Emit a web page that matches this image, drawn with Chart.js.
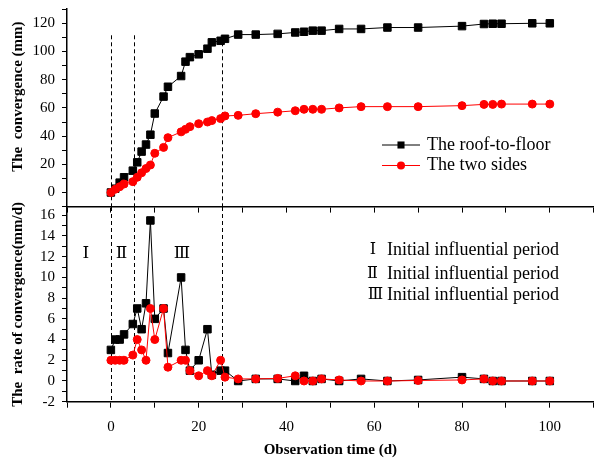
<!DOCTYPE html>
<html>
<head>
<meta charset="utf-8">
<script src="https://cdn.jsdelivr.net/npm/chart.js@4.4.1/dist/chart.umd.min.js"></script>
<style>
  html, body { margin: 0; padding: 0; background: #fff; overflow: hidden; }
  body { width: 597px; height: 459px; position: relative; }
  canvas { position: absolute; left: 0; }
  #convergenceChart { top: 0; }
  #rateChart { top: 200px; }
</style>
</head>
<body>
<canvas id="convergenceChart" width="600" height="214"></canvas>
<canvas id="rateChart" width="600" height="259"></canvas>
<script>
// Observation days (d)
const days = [0, 1, 2, 3, 5, 6, 7, 8, 9, 10, 12, 13, 16, 17, 18, 20, 22, 23, 25, 26,
  29, 33, 38, 42, 44, 46, 48, 52, 57, 63, 70, 80, 85, 87, 89, 96, 100]

// Convergence (mm)
const roofToFloor = [0, 2.7, 7, 10.8, 15.5, 21.4, 29, 34, 41, 56, 68, 75, 82.6, 92.8, 96, 98, 102, 106.5, 107.6, 109,
  112, 112, 112.5, 113.5, 114, 114.8, 114.8, 116, 116, 117, 117, 118, 119.5, 119.7, 119.7, 120, 120]
const twoSides = [0, 2.3, 4.1, 6, 7.7, 10.8, 14, 17, 19.5, 27.8, 32, 38.9, 43, 44.8, 46.7, 48.8, 50, 51, 52.4, 54.3,
  54.7, 55.9, 57, 58, 59, 59, 59, 60, 60.9, 60.9, 60.9, 61.6, 62.5, 62.5, 62.7, 62.7, 62.7]

// Rate of convergence (mm/d)
const roofToFloorRate = [3, 4, 4, 4.5, 5.5, 7, 5, 7.5, 15.5, 6, 7, 2.7, 10, 3, 1, 2, 5, 0.6, 1, 1,
  0, 0.2, 0.2, 0, 0.5, 0, 0.2, 0, 0.2, 0, 0.1, 0.37, 0.2, 0, 0, 0, 0]
const twoSidesRate = [2, 2, 2, 2, 2.5, 4, 3, 2, 7, 4, 7, 1.33, 2, 2, 1, 0.5, 1, 0.5, 2, 0.37,
  0.2, 0.2, 0.25, 0.5, 0, 0, 0.2, 0.1, 0, 0, 0.05, 0.1, 0.2, 0, 0, 0, 0]

// Stage boundaries (d) and stage names
const phaseBounds = [0, 5.2, 25.3]
const phaseNames = ['Ⅰ', 'Ⅱ', 'Ⅲ']
const phaseNotes = ['Ⅰ  Initial influential period', 'Ⅱ   Initial influential period', 'Ⅲ Initial influential period']

const serif = '"Liberation Serif", "Times New Roman", "DejaVu Serif", serif'
const numeralFont = '"DejaVu Serif", serif'
Chart.defaults.font.family = serif
Chart.defaults.color = '#000'

const toPoints = (xs, ys) => xs.map((x, i) => ({ x, y: ys[i] }))

function seriesSets(blackValues, redValues) {
  return [
    {
      label: 'The roof-to-floor',
      data: toPoints(days, blackValues),
      borderColor: '#000',
      backgroundColor: '#000',
      borderWidth: 1,
      pointStyle: 'rect',
      pointRadius: 5.3,
      pointBorderWidth: 1,
      order: 1
    },
    {
      label: 'The two sides',
      data: toPoints(days, redValues),
      borderColor: '#ff0000',
      backgroundColor: '#ff0000',
      borderWidth: 1,
      pointStyle: 'circle',
      pointRadius: 4,
      pointBorderWidth: 1,
      order: 0
    }
  ]
}

function xAxis(withLabels, height) {
  return {
    type: 'linear',
    min: -10,
    max: 110,
    ticks: {
      display: withLabels,
      stepSize: 10,
      autoSkip: false,
      maxRotation: 0,
      padding: 10,
      font: { size: 15 },
      callback: (v) => (Math.abs(v % 20) < 1e-6 && v >= 0 && v <= 100 ? v : '')
    },
    grid: { drawOnChartArea: false, tickLength: 6, tickColor: '#000', color: '#000' },
    border: { color: '#000', width: 1.5 },
    title: {
      display: withLabels,
      text: 'Observation time (d)',
      font: { size: 15, weight: 'bold' },
      padding: { top: 0, bottom: 0 }
    },
    afterFit(scale) {
      scale.height = height
      scale.paddingLeft = 0
      scale.paddingRight = 0
    }
  }
}

function yAxis(min, max, step, labelStep, title) {
  return {
    min,
    max,
    ticks: {
      stepSize: step,
      includeBounds: false,
      autoSkip: false,
      padding: 7,
      font: { size: 15 },
      callback: (v) => (Math.abs(v % labelStep) < 1e-6 ? v : '')
    },
    grid: { drawOnChartArea: false, tickLength: 5, tickColor: '#000', color: '#000' },
    border: { color: '#000', width: 1.5 },
    title: {
      display: true,
      text: title,
      font: { size: 15, weight: 'bold' },
      padding: { top: 9, bottom: 0 }
    },
    afterFit(scale) {
      scale.width = 67
      scale.paddingTop = 0
      scale.paddingBottom = 0
    }
  }
}

// Dashed stage boundaries, drawn under the markers
const phaseLines = {
  id: 'phaseLines',
  beforeDatasetsDraw(chart, args, opts) {
    const { ctx, chartArea, scales: { x, y } } = chart
    const top = opts.from != null ? y.getPixelForValue(opts.from) : chartArea.top
    ctx.save()
    ctx.setLineDash([4, 3])
    ctx.strokeStyle = '#000'
    ctx.lineWidth = 1
    phaseBounds.forEach((d) => {
      const px = Math.round(x.getPixelForValue(d)) + 0.5
      ctx.beginPath()
      ctx.moveTo(px, top)
      ctx.lineTo(px, chartArea.bottom)
      ctx.stroke()
    })
    ctx.restore()
  }
}

// Legend drawn inside the upper plot
const seriesLegend = {
  id: 'seriesLegend',
  afterDraw(chart) {
    const { ctx } = chart
    ctx.save()
    chart.data.datasets.forEach((ds, i) => {
      const yPos = 145 + i * 20.5
      ctx.strokeStyle = ds.borderColor
      ctx.lineWidth = 1
      ctx.beginPath()
      ctx.moveTo(382, yPos)
      ctx.lineTo(420, yPos)
      ctx.stroke()
      ctx.fillStyle = ds.backgroundColor
      Chart.helpers.drawPoint(ctx, { pointStyle: ds.pointStyle, radius: i === 0 ? 5 : 4, borderWidth: 0, rotation: 0 }, 401, yPos)
      ctx.fillStyle = '#000'
      ctx.font = '18px ' + serif
      ctx.textAlign = 'left'
      ctx.textBaseline = 'middle'
      ctx.fillText(ds.label, 427, yPos)
    })
    ctx.restore()
  }
}

// Stage names and notes in the lower plot
const stageNotes = {
  id: 'stageNotes',
  afterDraw(chart) {
    const { ctx, scales: { x, y } } = chart
    const nameDays = [-5.7, 2.4, 16.2]
    const noteRows = [50, 74, 95]
    const numeralCenters = [373, 372.5, 375.5]
    ctx.save()
    ctx.fillStyle = '#000'
    ctx.textBaseline = 'middle'
    ctx.textAlign = 'center'
    ctx.font = '17px ' + numeralFont
    phaseNames.forEach((name, i) => {
      ctx.fillText(name, x.getPixelForValue(nameDays[i]), y.getPixelForValue(12.3))
    })
    phaseNotes.forEach((note, i) => {
      const [numeral, ...words] = note.split(/\s+/)
      ctx.textAlign = 'center'
      ctx.font = '16px ' + numeralFont
      ctx.fillText(numeral, numeralCenters[i], noteRows[i])
      ctx.textAlign = 'right'
      ctx.font = '18px ' + serif
      ctx.fillText(words.join(' '), 559, noteRows[i])
    })
    ctx.restore()
  }
}

const baseOptions = {
  responsive: false,
  animation: false,
  plugins: { legend: { display: false }, tooltip: { enabled: false } }
}

new Chart(document.getElementById('convergenceChart'), {
  type: 'line',
  data: { datasets: seriesSets(roofToFloor, twoSides) },
  options: {
    ...baseOptions,
    layout: { padding: { top: 9.2, left: 0, right: 0, bottom: 0 } },
    plugins: { ...baseOptions.plugins, phaseLines: { from: 111.5 } },
    scales: {
      x: xAxis(false, 7.4),
      y: yAxis(-10, 130, 10, 20, '      The  convergence (mm)')
    }
  },
  plugins: [phaseLines, seriesLegend]
})

new Chart(document.getElementById('rateChart'), {
  type: 'line',
  data: { datasets: seriesSets(roofToFloorRate, twoSidesRate) },
  options: {
    ...baseOptions,
    layout: { padding: { top: 7, left: 0, right: 0, bottom: 0 } },
    scales: {
      x: xAxis(true, 57.3),
      y: yAxis(-2, 16.8, 1, 2, 'The  rate of convergence(mm/d)')
    }
  },
  plugins: [phaseLines, stageNotes]
})
</script>
</body>
</html>
